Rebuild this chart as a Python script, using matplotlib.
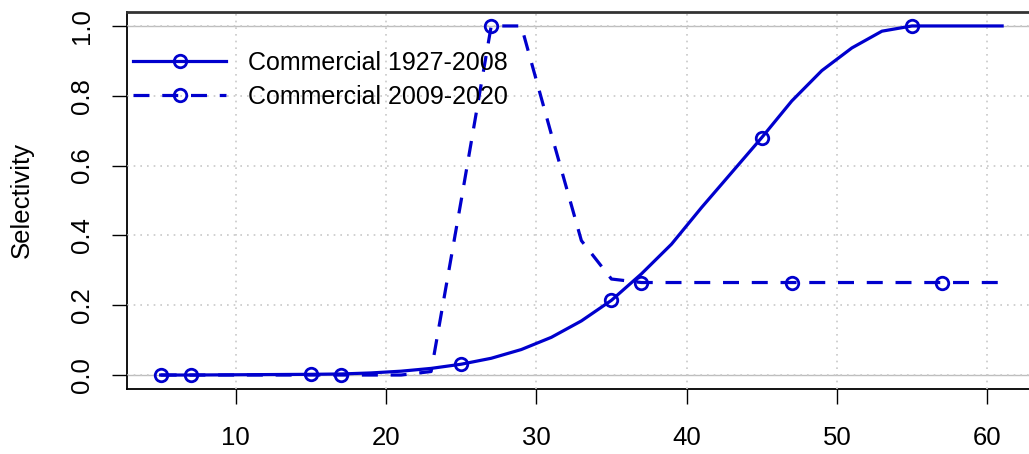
import matplotlib.pyplot as plt

# length bins (cm), every 2 cm
lengths = [5, 7, 9, 11, 13, 15, 17, 19, 21, 23, 25, 27, 29, 31, 33,
           35, 37, 39, 41, 43, 45, 47, 49, 51, 53, 55, 57, 59, 61]

sel_1927_2008 = [0.0, 0.0, 0.0005, 0.001, 0.0015, 0.002, 0.003, 0.006, 0.011,
                 0.019, 0.031, 0.048, 0.073, 0.108, 0.155, 0.214, 0.29, 0.375,
                 0.48, 0.58, 0.68, 0.785, 0.872, 0.937, 0.985, 1.0, 1.0, 1.0, 1.0]

sel_2009_2020 = [0.0, 0.0, 0.0, 0.0, 0.0, 0.0, 0.0, 0.0, 0.0, 0.01, 0.5, 1.0,
                 1.0, 0.69, 0.385, 0.275, 0.265, 0.265, 0.265, 0.265, 0.265,
                 0.265, 0.265, 0.265, 0.265, 0.265, 0.265, 0.265, 0.265]

xticks = [10, 20, 30, 40, 50, 60]
yticks = [0.0, 0.2, 0.4, 0.6, 0.8, 1.0]

plt.rcParams['font.family'] = ['Liberation Sans', 'DejaVu Sans']
col = "#0000CD"

fig = plt.figure(figsize=(10.29, 4.54), dpi=100)
ax = fig.add_axes([0.1234, 0.1432, 0.8832, 0.8304])

ax.axhline(0, color="#BEBEBE", lw=1, zorder=1)
ax.axhline(1, color="#BEBEBE", lw=1, zorder=1)

ax.plot(lengths, sel_1927_2008, color=col, lw=2.3, marker="o", ms=9,
        mfc="none", mew=2, markevery=(0, 5), label="Commercial 1927-2008", zorder=3)
ax.plot(lengths, sel_2009_2020, color=col, lw=2.3, ls=(0, (5, 4)), marker="o", ms=9,
        mfc="none", mew=2, markevery=(1, 5), label="Commercial 2009-2020", zorder=3)

ax.set_xlim(2.76, 63.24)
ax.set_ylim(-0.04, 1.04)
ax.set_xticks(xticks)
ax.set_yticks(yticks)
ax.set_yticklabels(["%.1f" % v for v in yticks], rotation=90, va="center")
ax.tick_params(axis="both", direction="out", length=11, width=1, labelsize=18.5)
ax.tick_params(axis="x", pad=16)
ax.tick_params(axis="y", pad=13)
ax.grid(True, color="#C8C8C8", ls=(0, (1, 3)), lw=1.2, zorder=4)
ax.set_axisbelow(False)

ax.spines["top"].set_color("#333333")
ax.spines["top"].set_linewidth(2)
for s in ["left", "bottom"]:
    ax.spines[s].set_linewidth(1.3)

ax.set_ylabel("Selectivity", fontsize=18.5, labelpad=26)

ax.legend(loc="upper left", bbox_to_anchor=(0.007, 0.897), frameon=False,
          fontsize=18, handlelength=3.7, handletextpad=0.9, labelspacing=0.4,
          borderaxespad=0.0, borderpad=0.0)

fig.savefig("out.png", dpi=100)
